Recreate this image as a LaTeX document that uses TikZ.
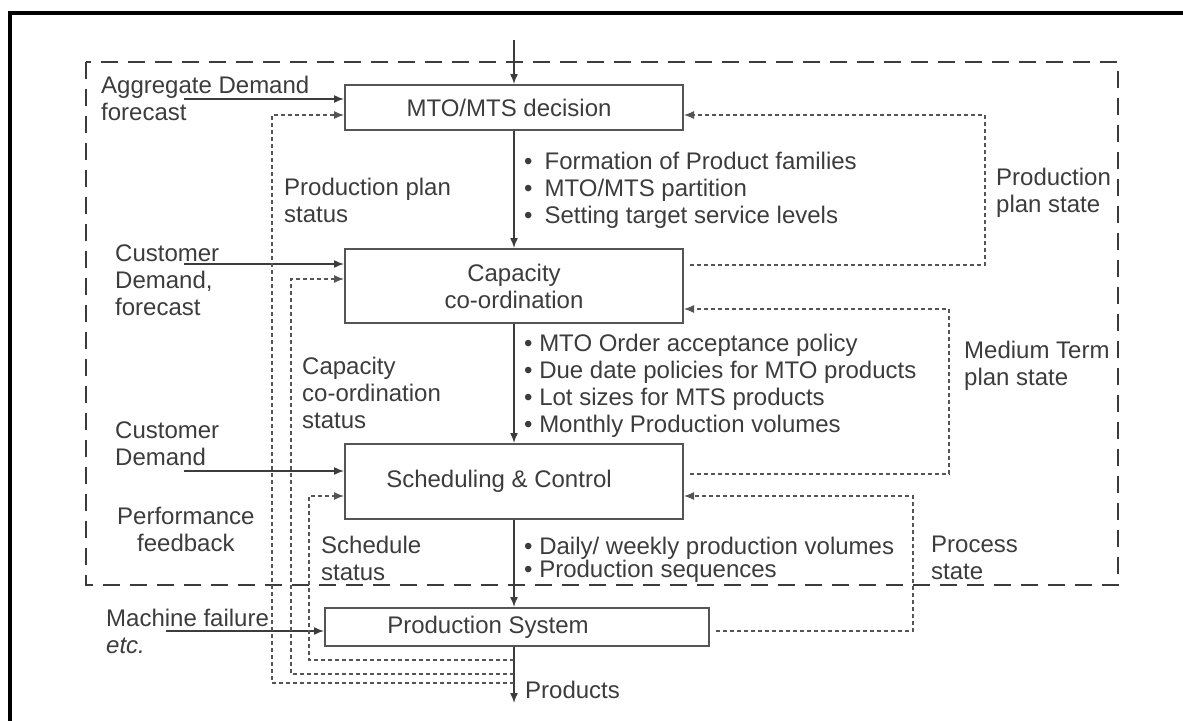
\documentclass[tikz,border=0pt]{standalone}
\usepackage{fontspec}
\setmainfont{Liberation Sans}
\usetikzlibrary{arrows.meta}
\definecolor{inkgray}{HTML}{3C3C3C}
\definecolor{linegray}{HTML}{555555}

\begin{document}
\begin{tikzpicture}[x=1pt,y=-1pt,
  font=\fontsize{24}{27}\selectfont, text=inkgray,
  block/.style={draw=linegray,line width=2pt,inner sep=0pt},
  lbl/.style={anchor=west,align=left,inner sep=0pt},
  flow/.style={draw=inkgray,line width=1.5pt,-{Latex[length=10pt,width=8pt]}},
  fb/.style={draw=linegray,line width=1.2pt,dash pattern=on 4pt off 3pt,-{Latex[length=10pt,width=8pt]}}]
\useasboundingbox (0,0) rectangle (1183,720);

% frame and planning boundary
\draw[line width=4pt] (10,740) -- (10,13) -- (1200,13);
\draw[draw=inkgray,line width=2.8pt,dash pattern=on 17pt off 10pt] (86,62) rectangle (1118,585);

% blocks
\node[block,minimum width=338pt,minimum height=45pt] at (514,107.5) (mto) {MTO/MTS decision\kern10pt};
\node[block,align=center,minimum width=338pt,minimum height=74pt] at (514,286) (cap) {Capacity\\co-ordination};
\node[block,minimum width=338pt,minimum height=75pt] at (514,481.5) (sch) {Scheduling \& Control\kern30pt};
\node[block,minimum width=384pt,minimum height=38pt] at (517,627) (prod) {Production System\kern58pt};

% inputs
\node[lbl] at (101,98.5) (agg) {Aggregate Demand\\forecast};
\node[lbl] at (115,280) (custfc) {Customer\\Demand,\\forecast};
\node[lbl] at (115,444) (cust) {Customer\\Demand};
\node[lbl,align=center] at (117,529) (perf) {Performance\\feedback};
\node[lbl] at (106,631) (mach) {Machine failure\\\textit{etc.}};

% status / state labels
\node[lbl] at (284,200) (ppstatus) {Production plan\\status};
\node[lbl] at (302,393) (ccstatus) {Capacity\\co-ordination\\status};
\node[lbl] at (321,558) (schstatus) {Schedule\\status};
\node[lbl] at (996,193) (ppstate) {Production\\plan state};
\node[lbl] at (964,366) (mtstate) {Medium Term\\plan state};
\node[lbl] at (931,558) (prstate) {Process\\state};

% decisions passed down
\node[lbl] at (524,190) (mtoout) {\textbullet\hspace{12pt}Formation of Product families\\
  \textbullet\hspace{12pt}MTO/MTS partition\\
  \textbullet\hspace{12pt}Setting target service levels};
\node[lbl] at (524,386) (capout) {\textbullet\ MTO Order acceptance policy\\
  \textbullet\ Due date policies for MTO products\\
  \textbullet\ Lot sizes for MTS products\\
  \textbullet\ Monthly Production volumes};
\node[lbl,font=\fontsize{24}{23.5}\selectfont] at (524,560) (schout) {\textbullet\ Daily/ weekly production volumes\\
  \textbullet\ Production sequences};
\node[lbl] at (525,690) (prodout) {Products};

\coordinate (top) at (514,40);
\coordinate (out) at (514,703);
\coordinate (aggin) at (184,99);
\coordinate (custfcin) at (184,264);
\coordinate (custin) at (184,471);
\coordinate (machin) at (166,631);
\coordinate (tap1) at (514,683);
\coordinate (tap2) at (514,674);
\coordinate (tap3) at (514,660);

% main flow
\draw[flow] (top) -- (mto);
\draw[flow] (mto) -- (cap);
\draw[flow] (cap) -- (sch);
\draw[flow] (sch.south) -- (sch.south |- prod.north);
\draw[flow] (prod.south -| sch.south) -- (out);

\draw[flow] (aggin) -- (aggin -| mto.west);
\draw[flow] (custfcin) -- (custfcin -| cap.west);
\draw[flow] (custin) -- (custin -| sch.west);
\draw[flow] (machin) -- (machin -| prod.west);

% status feedback
\draw[fb] (tap1) -| (272,115) -- (mto.west |- 0,115);
\draw[fb] (tap2) -| (291,279) -- (cap.west |- 0,279);
\draw[fb] (tap3) -| (309,496) -- (sch.west |- 0,496);

% state feedback
\draw[fb,shorten <=6pt] (cap.east |- 0,265) -| (985,115) -- (mto.east |- 0,115);
\draw[fb,shorten <=6pt] (sch.east |- 0,474) -| (949,309) -- (cap.east |- 0,309);
\draw[fb,shorten <=6pt] (prod.east |- 0,631) -| (913,496) -- (sch.east |- 0,496);
\end{tikzpicture}
\end{document}
